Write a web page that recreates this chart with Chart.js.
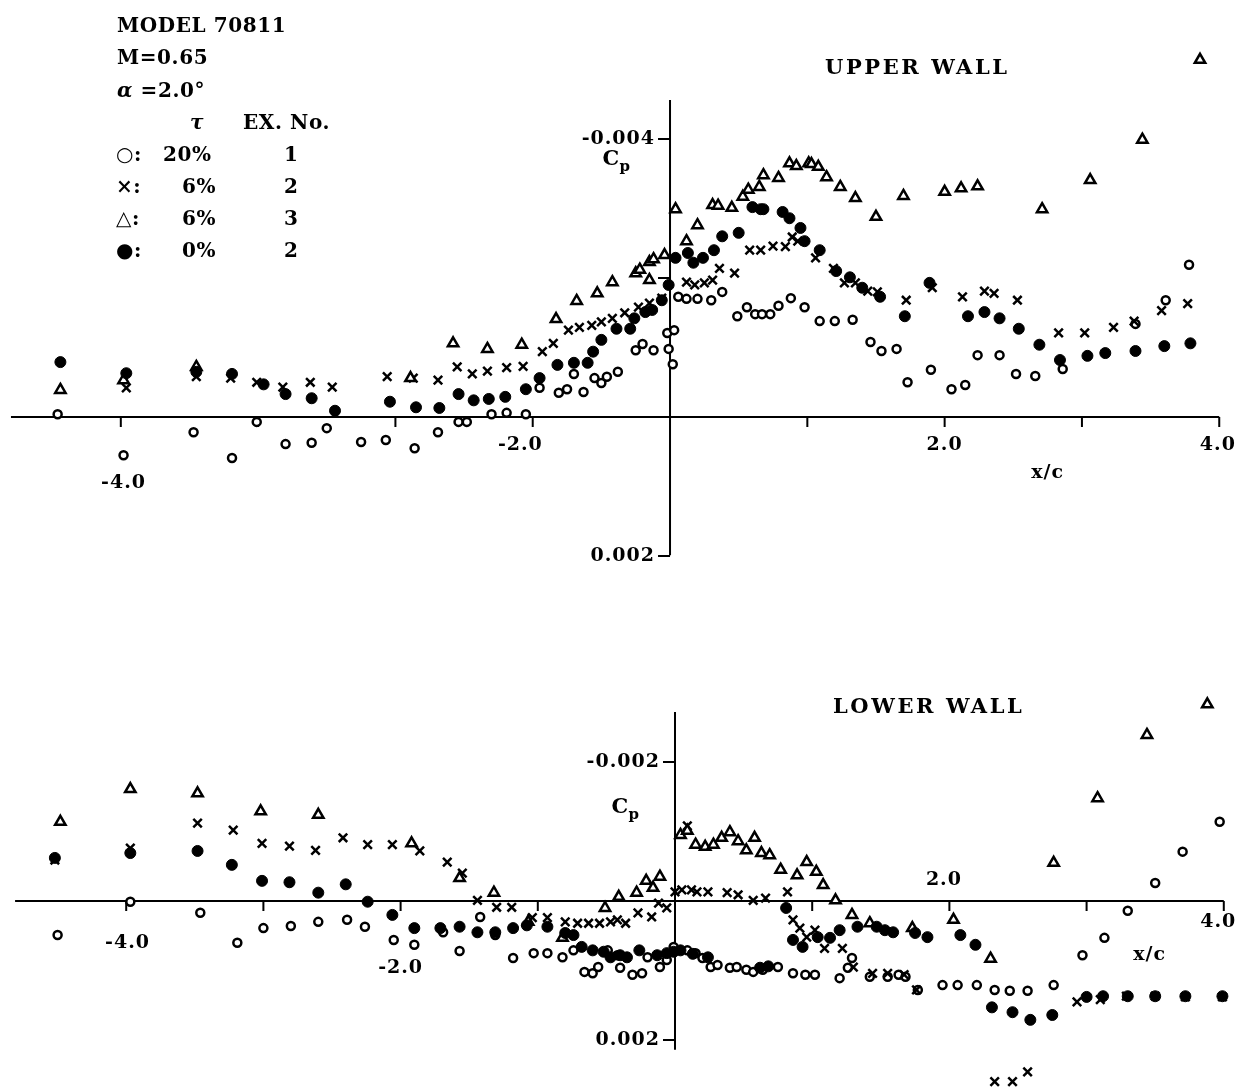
<!DOCTYPE html>
<html>
<head>
<meta charset="utf-8">
<script src="https://cdn.jsdelivr.net/npm/chart.js@4.4.1/dist/chart.umd.min.js"></script>
<style>
  html, body { margin: 0; padding: 0; background: #fff; }
  #page { position: relative; width: 1246px; height: 1089px; overflow: hidden; font-family: "DejaVu Serif", serif; color: #000; }
  canvas { position: absolute; left: 0; }
  .t { position: absolute; font-size: 20px; line-height: 24px; white-space: pre; letter-spacing: 0.6px; font-weight: bold; }
  .big { font-size: 21px; letter-spacing: 2.6px; }
</style>
</head>
<body>
<div id="page">
  <canvas id="upperChart" width="1246" height="590" style="top:0"></canvas>
  <canvas id="lowerChart" width="1246" height="499" style="top:590px"></canvas>

  <div class="t" style="left:117px;top:13px">MODEL 70811</div>
  <div class="t" style="left:117px;top:45px">M=0.65</div>
  <div class="t" style="left:117px;top:78px"><i>α</i> =2.0°</div>
  <div class="t" style="left:190px;top:110px"><i>τ</i></div>
  <div class="t" style="left:243px;top:110px">EX. No.</div>
  <div class="t" style="left:116px;top:142px">○:</div>
  <div class="t" style="left:163px;top:142px">20%</div>
  <div class="t" style="left:284px;top:142px">1</div>
  <div class="t" style="left:116px;top:174px">×:</div>
  <div class="t" style="left:182px;top:174px">6%</div>
  <div class="t" style="left:284px;top:174px">2</div>
  <div class="t" style="left:116px;top:206px">△:</div>
  <div class="t" style="left:182px;top:206px">6%</div>
  <div class="t" style="left:284px;top:206px">3</div>
  <div class="t" style="left:116px;top:238px">●:</div>
  <div class="t" style="left:182px;top:238px">0%</div>
  <div class="t" style="left:284px;top:238px">2</div>

  <div class="t big" style="left:825px;top:55px">UPPER WALL</div>
  <div class="t big" style="left:833px;top:694px">LOWER WALL</div>
</div>

<script>
// ---- data: [x/c, Cp] ----

// UPPER WALL
const upperOpen = [
  [-4.46, -0.00004], [-3.98, 0.00055], [-3.47, 0.00022], [-3.19, 0.00059], [-3.01, 0.00007],
  [-2.80, 0.00039], [-2.61, 0.00037], [-2.50, 0.00016], [-2.25, 0.00036], [-2.07, 0.00033],
  [-1.86, 0.00045], [-1.69, 0.00022], [-1.54, 0.00007], [-1.48, 0.00007], [-1.30, -0.00004],
  [-1.19, -0.00006], [-1.05, -0.00004], [-0.95, -0.00042], [-0.81, -0.00035], [-0.75, -0.00040],
  [-0.70, -0.00062], [-0.63, -0.00036], [-0.55, -0.00056], [-0.50, -0.00049], [-0.46, -0.00058],
  [-0.38, -0.00065], [-0.25, -0.00096], [-0.20, -0.00105], [-0.12, -0.00096], [-0.01, -0.00098],
  [0.02, -0.00076], [-0.02, -0.00121], [0.03, -0.00125], [0.06, -0.00173], [0.12, -0.00170],
  [0.20, -0.00170], [0.30, -0.00168], [0.38, -0.00180], [0.49, -0.00145], [0.56, -0.00158],
  [0.62, -0.00148], [0.67, -0.00148], [0.73, -0.00148], [0.79, -0.00160], [0.88, -0.00171],
  [0.98, -0.00158], [1.09, -0.00138], [1.20, -0.00138], [1.33, -0.00140], [1.46, -0.00108],
  [1.54, -0.00095], [1.65, -0.00098], [1.73, -0.00050], [1.90, -0.00068], [2.05, -0.00040],
  [2.15, -0.00046], [2.24, -0.00089], [2.40, -0.00089], [2.52, -0.00062], [2.66, -0.00059],
  [2.86, -0.00069], [3.39, -0.00134], [3.61, -0.00168], [3.78, -0.00219]
];
const upperCross = [
  [-3.96, -0.00042], [-3.45, -0.00058], [-3.20, -0.00056], [-3.01, -0.00050], [-2.82, -0.00043],
  [-2.62, -0.00050], [-2.46, -0.00043], [-2.06, -0.00058], [-1.87, -0.00056], [-1.69, -0.00053],
  [-1.55, -0.00072], [-1.44, -0.00062], [-1.33, -0.00066], [-1.19, -0.00071], [-1.07, -0.00073],
  [-0.93, -0.00094], [-0.85, -0.00106], [-0.74, -0.00125], [-0.66, -0.00129], [-0.57, -0.00132],
  [-0.50, -0.00137], [-0.42, -0.00142], [-0.33, -0.00150], [-0.23, -0.00158], [-0.15, -0.00164],
  [-0.06, -0.00171], [0.12, -0.00194], [0.18, -0.00190], [0.25, -0.00193], [0.31, -0.00197],
  [0.36, -0.00214], [0.47, -0.00207], [0.58, -0.00240], [0.66, -0.00240], [0.75, -0.00246],
  [0.84, -0.00245], [0.89, -0.00259], [0.93, -0.00253], [1.06, -0.00229], [1.19, -0.00214],
  [1.27, -0.00193], [1.35, -0.00193], [1.44, -0.00181], [1.51, -0.00180], [1.72, -0.00168],
  [1.91, -0.00186], [2.13, -0.00173], [2.29, -0.00181], [2.36, -0.00178], [2.53, -0.00168],
  [2.83, -0.00121], [3.02, -0.00121], [3.23, -0.00129], [3.38, -0.00138], [3.58, -0.00153],
  [3.77, -0.00163]
];
const upperTriangle = [
  [-4.44, -0.00039], [-3.98, -0.00053], [-3.45, -0.00072], [-1.89, -0.00056], [-1.58, -0.00106],
  [-1.33, -0.00098], [-1.08, -0.00104], [-0.83, -0.00141], [-0.68, -0.00167], [-0.53, -0.00178],
  [-0.42, -0.00194], [-0.25, -0.00207], [-0.22, -0.00212], [-0.15, -0.00223], [-0.12, -0.00227],
  [-0.15, -0.00197], [-0.04, -0.00233], [0.04, -0.00299], [0.12, -0.00253], [0.20, -0.00276],
  [0.31, -0.00305], [0.35, -0.00304], [0.45, -0.00301], [0.53, -0.00317], [0.57, -0.00327],
  [0.65, -0.00331], [0.68, -0.00348], [0.79, -0.00344], [0.87, -0.00365], [0.92, -0.00361],
  [1.01, -0.00365], [1.03, -0.00364], [1.08, -0.00360], [1.14, -0.00345], [1.24, -0.00331],
  [1.35, -0.00315], [1.50, -0.00288], [1.70, -0.00318], [2.00, -0.00324], [2.12, -0.00329],
  [2.24, -0.00332], [2.71, -0.00299], [3.06, -0.00341], [3.44, -0.00399], [3.86, -0.00514]
];
const upperFilled = [
  [-4.44, -0.00079], [-3.96, -0.00063], [-3.45, -0.00065], [-3.19, -0.00062], [-2.96, -0.00047],
  [-2.80, -0.00033], [-2.61, -0.00027], [-2.44, -0.00009], [-2.04, -0.00022], [-1.85, -0.00014],
  [-1.68, -0.00013], [-1.54, -0.00033], [-1.43, -0.00024], [-1.32, -0.00026], [-1.20, -0.00029],
  [-1.05, -0.00040], [-0.95, -0.00056], [-0.82, -0.00075], [-0.70, -0.00078], [-0.60, -0.00078],
  [-0.56, -0.00094], [-0.50, -0.00111], [-0.39, -0.00127], [-0.29, -0.00127], [-0.26, -0.00142],
  [-0.18, -0.00151], [-0.13, -0.00154], [-0.06, -0.00168], [-0.01, -0.00190], [0.04, -0.00229],
  [0.13, -0.00236], [0.17, -0.00222], [0.24, -0.00229], [0.32, -0.00240], [0.38, -0.00260],
  [0.50, -0.00265], [0.60, -0.00302], [0.66, -0.00299], [0.68, -0.00299], [0.82, -0.00295],
  [0.87, -0.00286], [0.95, -0.00272], [0.98, -0.00253], [1.09, -0.00240], [1.21, -0.00210],
  [1.31, -0.00201], [1.40, -0.00186], [1.53, -0.00173], [1.71, -0.00145], [1.89, -0.00193],
  [2.17, -0.00145], [2.29, -0.00151], [2.40, -0.00142], [2.54, -0.00127], [2.69, -0.00104],
  [2.84, -0.00082], [3.04, -0.00088], [3.17, -0.00092], [3.39, -0.00095], [3.60, -0.00102],
  [3.79, -0.00106]
];

// LOWER WALL
const lowerOpen = [
  [-4.50, 0.00049], [-3.97, 0.00001], [-3.46, 0.00017], [-3.19, 0.00060], [-3.00, 0.00039],
  [-2.80, 0.00036], [-2.60, 0.00030], [-2.39, 0.00027], [-2.26, 0.00037], [-2.05, 0.00056],
  [-1.90, 0.00063], [-1.69, 0.00045], [-1.57, 0.00072], [-1.42, 0.00023], [-1.31, 0.00049],
  [-1.18, 0.00082], [-1.03, 0.00075], [-0.93, 0.00075], [-0.82, 0.00081], [-0.74, 0.00071],
  [-0.66, 0.00102], [-0.60, 0.00104], [-0.56, 0.00095], [-0.49, 0.00071], [-0.42, 0.00078],
  [-0.40, 0.00096], [-0.31, 0.00106], [-0.24, 0.00104], [-0.20, 0.00081], [-0.11, 0.00095],
  [-0.06, 0.00085], [-0.01, 0.00066], [0.09, 0.00071], [0.15, 0.00075], [0.20, 0.00082],
  [0.26, 0.00095], [0.31, 0.00092], [0.40, 0.00096], [0.45, 0.00095], [0.52, 0.00099],
  [0.57, 0.00102], [0.64, 0.00099], [0.75, 0.00095], [0.86, 0.00104], [0.95, 0.00106],
  [1.02, 0.00106], [1.20, 0.00111], [1.26, 0.00096], [1.29, 0.00082], [1.42, 0.00109],
  [1.55, 0.00109], [1.63, 0.00106], [1.68, 0.00109], [1.77, 0.00128], [1.95, 0.00121],
  [2.06, 0.00121], [2.20, 0.00121], [2.33, 0.00128], [2.44, 0.00129], [2.57, 0.00129],
  [2.76, 0.00121], [2.97, 0.00078], [3.13, 0.00053], [3.30, 0.00014], [3.50, -0.00026],
  [3.70, -0.00071], [3.97, -0.00114]
];
const lowerCross = [
  [-4.52, -0.00059], [-3.97, -0.00076], [-3.48, -0.00112], [-3.22, -0.00102], [-3.01, -0.00083],
  [-2.81, -0.00079], [-2.62, -0.00073], [-2.42, -0.00091], [-2.24, -0.00081], [-2.06, -0.00081],
  [-1.86, -0.00072], [-1.66, -0.00056], [-1.55, -0.00040], [-1.44, -0.00001], [-1.30, 0.00009],
  [-1.19, 0.00009], [-1.04, 0.00024], [-0.93, 0.00024], [-0.80, 0.00030], [-0.71, 0.00032],
  [-0.63, 0.00032], [-0.55, 0.00032], [-0.47, 0.00030], [-0.42, 0.00027], [-0.36, 0.00032],
  [-0.27, 0.00017], [-0.17, 0.00023], [-0.12, 0.00003], [-0.06, 0.00010], [0.00, -0.00013],
  [0.05, -0.00016], [0.09, -0.00108], [0.12, -0.00016], [0.16, -0.00013], [0.24, -0.00013],
  [0.38, -0.00012], [0.46, -0.00009], [0.57, -0.00001], [0.66, -0.00004], [0.82, -0.00013],
  [0.86, 0.00027], [0.91, 0.00039], [0.96, 0.00052], [1.02, 0.00042], [1.09, 0.00068],
  [1.22, 0.00068], [1.30, 0.00095], [1.44, 0.00104], [1.55, 0.00104], [1.67, 0.00106],
  [1.76, 0.00128], [2.93, 0.00145], [3.10, 0.00142], [3.29, 0.00137], [3.50, 0.00137],
  [3.72, 0.00138], [3.99, 0.00138], [2.33, 0.00260], [2.46, 0.00260], [2.57, 0.00246]
];
const lowerTriangle = [
  [-4.48, -0.00114], [-3.97, -0.00161], [-3.48, -0.00155], [-3.02, -0.00129], [-2.60, -0.00124],
  [-1.92, -0.00083], [-1.57, -0.00033], [-1.32, -0.00012], [-1.07, 0.00030], [-0.82, 0.00053],
  [-0.51, 0.00010], [-0.41, -0.00006], [-0.28, -0.00012], [-0.21, -0.00029], [-0.16, -0.00019],
  [-0.11, -0.00035], [0.04, -0.00095], [0.09, -0.00101], [0.15, -0.00081], [0.22, -0.00078],
  [0.28, -0.00081], [0.34, -0.00091], [0.40, -0.00099], [0.46, -0.00086], [0.52, -0.00073],
  [0.58, -0.00091], [0.63, -0.00069], [0.69, -0.00066], [0.77, -0.00045], [0.89, -0.00037],
  [0.96, -0.00056], [1.03, -0.00042], [1.08, -0.00023], [1.17, -0.00001], [1.29, 0.00020],
  [1.42, 0.00032], [1.73, 0.00039], [2.03, 0.00027], [2.30, 0.00083], [2.76, -0.00055],
  [3.08, -0.00148], [3.44, -0.00239], [3.88, -0.00283]
];
const lowerFilled = [
  [-4.52, -0.00062], [-3.97, -0.00069], [-3.48, -0.00072], [-3.23, -0.00052], [-3.01, -0.00029],
  [-2.81, -0.00027], [-2.60, -0.00012], [-2.40, -0.00024], [-2.24, 0.00001], [-2.06, 0.00020],
  [-1.90, 0.00039], [-1.71, 0.00039], [-1.57, 0.00037], [-1.44, 0.00045], [-1.31, 0.00045],
  [-1.18, 0.00039], [-1.08, 0.00035], [-0.93, 0.00037], [-0.80, 0.00046], [-0.74, 0.00049],
  [-0.68, 0.00066], [-0.60, 0.00071], [-0.52, 0.00073], [-0.47, 0.00081], [-0.40, 0.00078],
  [-0.35, 0.00081], [-0.26, 0.00071], [-0.13, 0.00078], [-0.06, 0.00075], [-0.01, 0.00073],
  [0.04, 0.00071], [0.13, 0.00076], [0.24, 0.00081], [0.62, 0.00096], [0.68, 0.00094],
  [0.81, 0.00010], [0.86, 0.00056], [0.93, 0.00066], [1.04, 0.00052], [1.13, 0.00053],
  [1.20, 0.00042], [1.33, 0.00037], [1.47, 0.00037], [1.53, 0.00042], [1.59, 0.00045],
  [1.75, 0.00046], [1.84, 0.00052], [2.08, 0.00049], [2.19, 0.00063], [2.31, 0.00153],
  [2.46, 0.00160], [2.59, 0.00171], [2.75, 0.00164], [3.00, 0.00138], [3.12, 0.00137],
  [3.30, 0.00137], [3.50, 0.00137], [3.72, 0.00137], [3.99, 0.00137]
];

// axis ticks and labels (label positions given in data units, as placed in the original)
const xTickValues = [-4, -3, -2, -1, 1, 2, 3, 4];
const upperYTicks = [-0.004, -0.002, 0.002];
const upperYLabels = [['-0.004', -0.004], ['0.002', 0.002]];
const upperXLabels = [['-4.0', -3.98, 0.00095], ['-2.0', -1.09, 0.0004], ['2.0', 2.0, 0.0004], ['4.0', 3.99, 0.0004], ['x/c', 2.75, 0.0008]];
const lowerYTicks = [-0.002, 0.002];
const lowerYLabels = [['-0.002', -0.002], ['0.002', 0.002]];
const lowerXLabels = [['-4.0', -3.99, 0.0006], ['-2.0', -2.0, 0.00096], ['2.0', 1.96, -0.0003], ['4.0', 3.96, 0.0003], ['x/c', 3.46, 0.00078]];

// Cross-shaped axes through the origin, drawn from the chart's own scales
const crossAxes = {
    id: 'crossAxes',
    beforeDatasetsDraw(chart, args, opts) {
        const { ctx, scales: { x, y } } = chart;
        const x0 = x.getPixelForValue(0);
        const y0 = y.getPixelForValue(0);
        ctx.save();
        ctx.strokeStyle = '#000';
        ctx.lineWidth = 2;

        ctx.beginPath();
        ctx.moveTo(x.getPixelForValue(opts.xFrom), y0);
        ctx.lineTo(x.getPixelForValue(opts.xTo), y0);
        ctx.moveTo(x0, y.getPixelForValue(opts.yFrom));
        ctx.lineTo(x0, y.getPixelForValue(opts.yTo));
        ctx.stroke();

        ctx.beginPath();
        xTickValues.forEach(v => {
            const px = x.getPixelForValue(v);
            ctx.moveTo(px, y0);
            ctx.lineTo(px, y0 + 10);
        });
        opts.yTicks.forEach(v => {
            const py = y.getPixelForValue(v);
            ctx.moveTo(x0 - 12, py);
            ctx.lineTo(x0, py);
        });
        ctx.stroke();

        ctx.fillStyle = '#000';
        ctx.font = 'bold 19px "DejaVu Serif"';
        ctx.letterSpacing = '1px';
        ctx.textBaseline = 'middle';
        ctx.textAlign = 'right';
        opts.yLabels.forEach(([t, v]) => ctx.fillText(t, x0 - 15, y.getPixelForValue(v)));
        ctx.textAlign = 'center';
        opts.xLabels.forEach(([t, vx, vy]) => ctx.fillText(t, x.getPixelForValue(vx), y.getPixelForValue(vy)));

        // C_p
        const cx = x.getPixelForValue(opts.cpAt[0]);
        const cy = y.getPixelForValue(opts.cpAt[1]);
        ctx.textAlign = 'left';
        ctx.font = 'bold 21px "DejaVu Serif"';
        ctx.fillText('C', cx - 14, cy);
        ctx.font = 'bold 15px "DejaVu Serif"';
        ctx.fillText('p', cx + 3, cy + 7);
        ctx.restore();
    }
};

function seriesSets(open, cross, tri, filled) {
    return [
        { data: filled, pointStyle: 'circle', pointRadius: 5.5, backgroundColor: '#000', borderColor: '#000', borderWidth: 1, clip: false },
        { data: tri, pointStyle: 'triangle', pointRadius: 6, backgroundColor: '#fff', borderColor: '#000', borderWidth: 2.5, clip: false },
        { data: cross, pointStyle: 'crossRot', pointRadius: 6, borderColor: '#000', borderWidth: 2.5, clip: false },
        { data: open, pointStyle: 'circle', pointRadius: 4, backgroundColor: '#fff', borderColor: '#000', borderWidth: 2.5, clip: false },
    ];
}

function makeChart(id, sets, xMin, xMax, yMin, yMax, axesOpts) {
    return new Chart(document.getElementById(id), {
        type: 'scatter',
        data: { datasets: sets },
        options: {
            responsive: false,
            animation: false,
            events: [],
            layout: { padding: { left: 10, right: 10, top: 10, bottom: 10 } },
            scales: {
                x: { type: 'linear', display: false, min: xMin, max: xMax },
                y: { type: 'linear', display: false, reverse: true, min: yMin, max: yMax },
            },
            plugins: {
                legend: { display: false },
                tooltip: { enabled: false },
                crossAxes: axesOpts,
            },
        },
        plugins: [crossAxes],
    });
}

makeChart('upperChart', seriesSets(upperOpen, upperCross, upperTriangle, upperFilled),
    -4.807, 4.122, -0.005856, 0.002345, {
        xFrom: -4.8, xTo: 4.0, yFrom: -0.00456, yTo: 0.00199,
        yTicks: upperYTicks, yLabels: upperYLabels, xLabels: upperXLabels,
        cpAt: [-0.39, -0.0037],
    });

makeChart('lowerChart', seriesSets(lowerOpen, lowerCross, lowerTriangle, lowerFilled),
    -4.847, 4.089, -0.004331, 0.002561, {
        xFrom: -4.81, xTo: 4.0, yFrom: -0.00272, yTo: 0.00214,
        yTicks: lowerYTicks, yLabels: lowerYLabels, xLabels: lowerXLabels,
        cpAt: [-0.36, -0.00134],
    });
</script>
</body>
</html>
